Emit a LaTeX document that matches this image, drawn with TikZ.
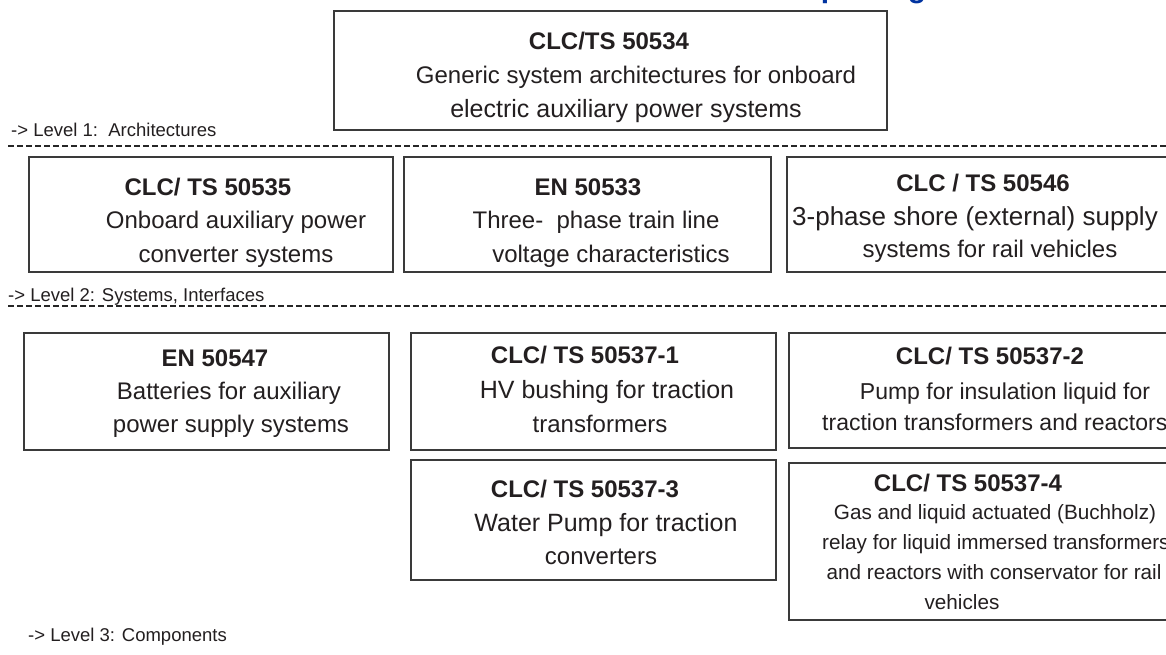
\documentclass[tikz,border=0pt]{standalone}
\usepackage{fontspec}
\setmainfont{Liberation Sans}
\definecolor{txt}{HTML}{231F20}
\definecolor{brd}{HTML}{3A3A3A}
\definecolor{ttlblue}{HTML}{0033A0}
\begin{document}
\begin{tikzpicture}[x=1pt,y=-1pt,
  box/.style={draw=brd,line width=1.3pt},
  sep/.style={draw=black!85,line width=2pt,dash pattern=on 6pt off 3pt},
  hd/.style={anchor=base,inner sep=0pt,text=txt,font=\fontsize{24}{28}\selectfont\bfseries},
  bd/.style={anchor=base,inner sep=0pt,text=txt,font=\fontsize{24}{28}\selectfont},
  bdl/.style={anchor=base,inner sep=0pt,text=txt,font=\fontsize{25}{29}\selectfont},
  md/.style={anchor=base,inner sep=0pt,text=txt,font=\fontsize{23}{27}\selectfont},
  sm/.style={anchor=base,inner sep=0pt,text=txt,font=\fontsize{20.7}{24}\selectfont},
  lv/.style={anchor=base west,inner sep=0pt,text=txt,font=\fontsize{18.5}{22}\selectfont},
  frag/.style={anchor=base,inner sep=0pt,text=ttlblue,font=\fontsize{30}{34}\selectfont\bfseries}]
\useasboundingbox (0,0) rectangle (1166,655);
\fill[white] (0,0) rectangle (1166,655);

% clipped title fragments
\node[frag] (fragP) at (830,-2) {p};
\node[frag] (fragG) at (917,-2) {g};

% top box
\draw[box] (334,11) rectangle (887,130);
\node[hd] (t1) at (609,50) {CLC/TS 50534};
\node[bd] (t2) at (636,84) {Generic system architectures for onboard};
\node[bdl] (t3) at (626,118) {electric auxiliary power systems};

\node[lv] (lev1) at (11,137) {-> Level 1:\ \ Architectures};
\draw[sep] (8,146) -- (1166,146);

% row 2
\draw[box] (29,157) rectangle (393,272);
\node[hd] (a1) at (208,195) {CLC/ TS 50535};
\node[bd] (a2) at (236,228) {Onboard auxiliary power};
\node[bd] (a3) at (236,262) {converter systems};

\draw[box] (404,157) rectangle (771,272);
\node[hd] (b1) at (588,195) {EN 50533};
\node[bd] (b2) at (596,228) {Three-\ \ phase train line};
\node[bd] (b3) at (611,262) {voltage characteristics};

\draw[box] (787,157) rectangle (1185,272);
\node[hd] (c1) at (983,191) {CLC / TS 50546};
\node[anchor=base,inner sep=0pt,text=txt,font=\fontsize{26}{30}\selectfont] (c2) at (975,225) {3-phase shore (external) supply};
\node[bd] (c3) at (990,257) {systems for rail vehicles};

\node[lv] (lev2) at (8,301) {-> Level 2: Systems, Interfaces};
\draw[sep] (8,306) -- (1166,306);

% row 3
\draw[box] (24,333) rectangle (389,450);
\node[hd] (d1) at (215,366) {EN 50547};
\node[bd] (d2) at (229,399) {Batteries for auxiliary};
\node[bd] (d3) at (231,432) {power supply systems};

\draw[box] (411,333) rectangle (776,450);
\node[hd] (e1) at (585,363) {CLC/ TS 50537-1};
\node[bdl] (e2) at (607,398) {HV bushing for traction};
\node[bd] (e3) at (600,432) {transformers};

\draw[box] (789,333) rectangle (1185,448);
\node[hd] (f1) at (990,364) {CLC/ TS 50537-2};
\node[md] (f2) at (1005,399) {Pump for insulation liquid for};
\node[md,anchor=base west] (f3) at (822,430) {traction transformers and reactors};

\draw[box] (411,460) rectangle (776,580);
\node[hd] (g1) at (585,497) {CLC/ TS 50537-3};
\node[bdl] (g2) at (606,531) {Water Pump for traction};
\node[bd] (g3) at (601,564) {converters};

\draw[box] (789,463) rectangle (1185,620);
\node[hd] (h1) at (968,491) {CLC/ TS 50537-4};
\node[sm] (h2) at (995,519) {Gas and liquid actuated (Buchholz)};
\node[sm,anchor=base west] (h3) at (822,549) {relay for liquid immersed transformers};
\node[sm] (h4) at (994,579) {and reactors with conservator for rail};
\node[sm] (h5) at (962,609) {vehicles};

\node[lv] (lev3) at (28,641) {-> Level 3: Components};
\end{tikzpicture}
\end{document}
